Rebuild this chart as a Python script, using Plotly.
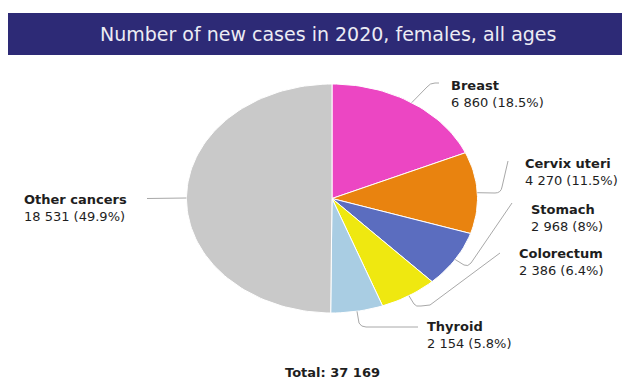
import math
import plotly.graph_objects as go

# ---- data ----
sites = ["Breast", "Cervix uteri", "Stomach", "Colorectum", "Thyroid", "Other cancers"]
new_cases = [6860, 4270, 2968, 2386, 2154, 18531]
share_labels = ["18.5", "11.5", "8", "6.4", "5.8", "49.9"]
slice_colors = ["#EC46C3", "#E9830F", "#5B6DBF", "#EFE810", "#A9CDE3", "#C9C9C9"]
title_text = "Number of new cases in 2020, females, all ages"

W, H = 622, 380
FONT = "DejaVu Sans"

# pie geometry (pixel space, y grows downward)
CX, CY = 332, 198.5
RX, RY = 145.5, 114.5


def fmt(n):
    return f"{n:,}".replace(",", " ")


def edge_point(frac):
    a = 2 * math.pi * frac
    return CX + RX * math.sin(a), CY - RY * math.cos(a)


total = sum(new_cases)

fig = go.Figure()

# slices, clockwise from 12 o'clock
start = 0.0
mids = []
for name, v, col in zip(sites, new_cases, slice_colors):
    f0 = start / total
    f1 = (start + v) / total
    n = max(4, int(200 * (f1 - f0)))
    xs, ys = [CX], [CY]
    for i in range(n + 1):
        x, y = edge_point(f0 + (f1 - f0) * i / n)
        xs.append(x)
        ys.append(y)
    xs.append(CX)
    ys.append(CY)
    fig.add_trace(go.Scatter(
        x=xs, y=ys, mode="lines", fill="toself", fillcolor=col,
        line=dict(color="white", width=1), hoverinfo="skip", showlegend=False,
    ))
    mids.append(edge_point((f0 + f1) / 2))
    start += v

# label placement: (left x, centre y of the two-line block) and leader path after its start point
label_pos = {
    "Breast": (449, 94),
    "Cervix uteri": (523, 172),
    "Stomach": (529, 218),
    "Colorectum": (517, 262),
    "Thyroid": (425, 335),
    "Other cancers": (22, 207.5),
}
leader_tail = {
    "Breast": "L 427 87 Q 430 83 435 83 L 439 83",
    "Cervix uteri": "L 495 193 Q 501 193 502 187 L 508 161",
    "Stomach": "L 464 265 Q 468 267 471 263 L 512 203",
    "Colorectum": "L 414 304 Q 416 307 421 306 L 430 305 L 500 253",
    "Thyroid": "L 359 323 Q 361 327 366 327 L 418 327",
    "Other cancers": "L 147 198.5",
}

shapes = [
    dict(type="rect", xref="x", yref="y", x0=8, x1=W, y0=13, y1=55,
         fillcolor="#2D2A76", line=dict(width=0), layer="below"),
]
annotations = [
    dict(x=328, y=34, xref="x", yref="y", text=title_text, showarrow=False,
         font=dict(family=FONT, size=19, color="#ECECF4"),
         xanchor="center", yanchor="middle"),
]

for name, v, pct, (mx, my) in zip(sites, new_cases, share_labels, mids):
    lx, ly = label_pos[name]
    shapes.append(dict(
        type="path", xref="x", yref="y",
        path=f"M {mx:.1f} {my:.1f} " + leader_tail[name],
        line=dict(color="#A8A8A8", width=1),
    ))
    annotations.append(dict(
        x=lx, y=ly, xref="x", yref="y",
        text=f"<b>{name}</b><br>{fmt(v)} ({pct}%)", showarrow=False,
        font=dict(family=FONT, size=13, color="#1E1E1E"),
        xanchor="left", yanchor="middle", align="left",
    ))

annotations.append(dict(
    x=332, y=372, xref="x", yref="y", text=f"<b>Total: {fmt(total)}</b>",
    showarrow=False, font=dict(family=FONT, size=13, color="#1E1E1E"),
    xanchor="center", yanchor="middle",
))

fig.update_layout(
    width=W, height=H,
    margin=dict(l=0, r=0, t=0, b=0),
    paper_bgcolor="white", plot_bgcolor="white",
    xaxis=dict(range=[0, W], visible=False, fixedrange=True),
    yaxis=dict(range=[H, 0], visible=False, fixedrange=True),
    shapes=shapes, annotations=annotations,
)

fig.write_html("out.html", config={"displayModeBar": False})
